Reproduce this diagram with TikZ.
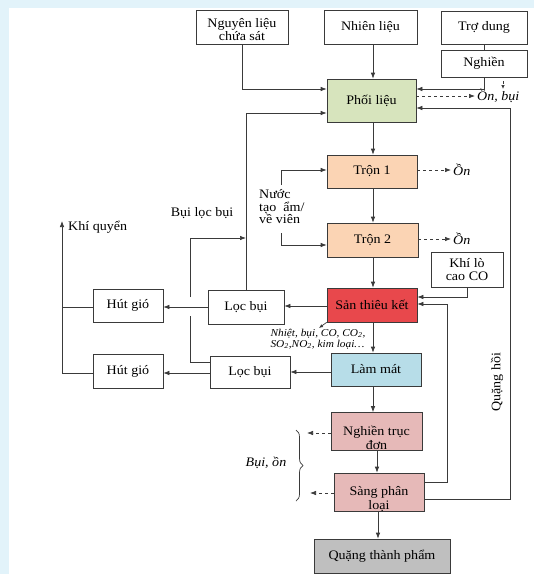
\documentclass[tikz,border=0pt]{standalone}
\usepackage{fontspec}
\setmainfont{Liberation Serif}[FakeStretch=1.08]
\usetikzlibrary{arrows.meta,decorations.pathreplacing}

\definecolor{bgblue}{HTML}{E2F3FA}
\definecolor{phoicol}{HTML}{D7E4BD}
\definecolor{troncol}{HTML}{FBD4B4}
\definecolor{sancol}{HTML}{E8484C}
\definecolor{lamcol}{HTML}{B7DDE8}
\definecolor{nghcol}{HTML}{E6B9B8}
\definecolor{qtpcol}{HTML}{BFBFBF}
\definecolor{linecol}{HTML}{3A3A3A}

\begin{document}
\begin{tikzpicture}[x=1pt,y=-1pt,
        box/.style={draw=linecol,line width=0.7pt,align=center,inner sep=1pt,
            font=\fontsize{13}{13}\selectfont},
        txt/.style={inner sep=0pt,align=left,font=\fontsize{13}{12.5}\selectfont},
        lbl/.style={inner sep=2pt,font=\fontsize{13}{13}\selectfont\itshape},
        line/.style={draw=linecol,line width=0.7pt},
        arr/.style={line,-{Latex[length=6pt,width=4.5pt]}},
        noise/.style={arr,dashed},
        tiny arr/.style={line,-{Latex[length=4pt,width=3.5pt]}}]
        % background
        \fill[bgblue] (0,0) rectangle (534,574);
        \fill[white] (9,8) rectangle (534,574);
        \useasboundingbox (0,0) rectangle (534,574);

        % inputs
        \path (242,27.5) node[box,minimum width=92,minimum height=34,text height=28.6pt,text depth=3.4pt] (nguyen) {Nguyên liệu\\chứa sát};
        \path (370.5,27) node[box,minimum width=93,minimum height=34] (nhien) {Nhiên liệu};
        \path (484,27.5) node[box,minimum width=86,minimum height=33] (trodung) {Trợ dung};
        \path (484,63.5) node[box,minimum width=86,minimum height=27] (nghien) {Nghiền};

        % main line
        \path (371.5,100.5) node[box,fill=phoicol,minimum width=89,minimum height=43] (phoi) {Phối liệu};
        \path (372,171.5) node[box,fill=troncol,minimum width=90,minimum height=33] (tron1) {Trộn 1};
        \path (372.5,240) node[box,fill=troncol,minimum width=91,minimum height=34] (tron2) {Trộn 2};
        \path (467,269.5) node[box,minimum width=72,minimum height=35] (khilo) {Khí lò\\cao CO};
        \path (372,305) node[box,fill=sancol,minimum width=90,minimum height=34] (san) {Sản thiêu kết};
        \path (376,369.5) node[box,fill=lamcol,minimum width=90,minimum height=33] (lammat) {Làm mát};
        \path (376.5,431.5) node[box,fill=nghcol,minimum width=91,minimum height=37,text height=36pt,text depth=-1pt] (nghtruc) {Nghiền trục\\[1pt]đơn};
        \path (379,492) node[box,fill=nghcol,minimum width=90,minimum height=38,text height=35pt,text depth=0.9pt] (sang) {Sàng phân\\[1pt]loại};
        \path (382,556) node[box,fill=qtpcol,minimum width=136,minimum height=34] (qtp) {Quặng thành phẩm};

        % dust side
        \path (246,307) node[box,minimum width=76,minimum height=34] (loc1) {Lọc bụi};
        \path (250,372) node[box,minimum width=80,minimum height=32] (loc2) {Lọc bụi};
        \path (128,305.5) node[box,minimum width=70,minimum height=33] (hut1) {Hút gió};
        \path (128,371) node[box,minimum width=70,minimum height=34] (hut2) {Hút gió};

        % labels
        \path (475,96) node[lbl,anchor=west] (onbui) {Ồn, bụi};
        \path (451,170) node[lbl,anchor=west] (on1) {Ồn};
        \path (451,239) node[lbl,anchor=west] (on2) {Ồn};
        \path (259,207) node[txt,anchor=west] (nuoc) {Nước\\tạo\ \ ẩm/\\về viên};
        \path (202,213) node[txt] (builoc) {Bụi lọc bụi};
        \path (68,227) node[txt,anchor=west] (khiq) {Khí quyển};
        \path (318,339) node[lbl,inner sep=0pt,align=left,font=\fontsize{10.5}{11}\selectfont\itshape] (khithai)
            {Nhiệt, bụi, CO, CO\textsubscript{2},\\SO\textsubscript{2},NO\textsubscript{2}, kim loại…};
        \path (266,463) node[lbl] (buion) {Bụi, ồn};
        \path (497,382) node[txt,rotate=90] (quanghoi) {Quặng hồi};

        % free ends
        \coordinate (nuocA) at (281,185);
        \coordinate (nuocB) at (281,233);
        \coordinate (dustA) at (503,81);
        \coordinate (dustB) at (503,89);
        \coordinate (merge) at (loc1.north |- 0,238);
        \coordinate (khi) at (62,221);
        \coordinate (gas) at (319,328);
        \coordinate (noiseA) at (307,433);
        \coordinate (noiseB) at (310,493);

        % connectors
        \draw[arr] (nguyen.south) |- (phoi.west |- 0,89);
        \draw[arr] (nhien.south -| 373,0) -- (phoi.north -| 373,0);
        \draw[line] (trodung) -- (nghien);
        \draw[arr] (nghien.south) |- (phoi.east |- 0,89);
        \draw[noise] (phoi.east |- 0,96) -- (onbui.west);
        \draw[tiny arr,dashed] (dustA) -- (dustB);
        \draw[arr] (sang.east |- 0,499) -| (510,108) -- (phoi.east |- 0,108);
        \draw[arr] (phoi.south -| 373,0) -- (tron1.north -| 373,0);
        \draw[arr] (tron1.south -| 373,0) -- (tron2.north -| 373,0);
        \draw[arr] (tron2.south -| 373,0) -- (san.north -| 373,0);
        \draw[arr] (nuocA) |- (tron1.west |- 0,170);
        \draw[arr] (nuocB) |- (tron2.west |- 0,245);
        \draw[noise] (tron1.east |- 0,170) -- (on1.west);
        \draw[noise] (tron2.east |- 0,239) -- (on2.west);
        \draw[arr] (khilo.south) |- (san.east |- 0,297);
        \draw[arr] (sang.east |- 0,482) -| (447,304) -- (san.east |- 0,304);
        \draw[arr] (san.south -| 373,0) -- (lammat.north -| 373,0);
        \draw[arr] (lammat.south -| 373,0) -- (nghtruc.north -| 373,0);
        \draw[arr] (nghtruc.south -| 377,0) -- (sang.north -| 377,0);
        \draw[arr] (sang.south -| 378,0) -- (qtp.north -| 378,0);
        \draw[tiny arr] (san.south west) -- (gas);

        \draw[arr] (san.west |- 0,306) -- (loc1.east |- 0,306);
        \draw[arr] (lammat.west |- 0,372) -- (loc2.east |- 0,372);
        \draw[arr] (loc1.west |- 0,307) -- (hut1.east |- 0,307);
        \draw[arr] (loc2.west |- 0,373) -- (hut2.east |- 0,373);
        \draw[arr] (loc1.north) |- (phoi.west |- 0,113);
        \draw[arr] (loc2.west |- 0,362) -| (190,316) (190,297) |- (merge);
        \draw[arr] (hut2.west |- 0,373) -| (khi);
        \draw[line] (hut1.west |- 0,307) -- (khi |- 0,307);

        \draw[noise] (nghtruc.west |- 0,433) -- (noiseA);
        \draw[noise] (sang.west |- 0,493) -- (noiseB);
        \draw[line,decorate,decoration={brace,amplitude=7pt}] (296,430) -- (296,501);
    \end{tikzpicture}
\end{document}
